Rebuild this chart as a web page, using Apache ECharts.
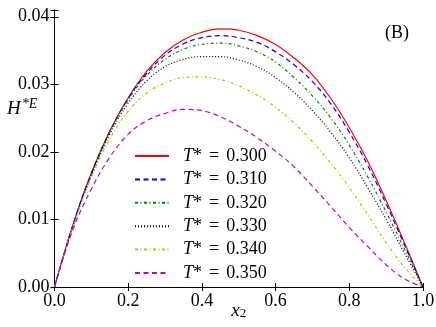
<!DOCTYPE html>
<html>
<head>
<meta charset="utf-8">
<script src="https://cdn.jsdelivr.net/npm/echarts@6/dist/echarts.min.js"></script>
<style>
  html, body { margin: 0; padding: 0; background: #fff; }
  #chart { width: 436px; height: 327px; }
</style>
</head>
<body>
<div id="chart"></div>
<script>
// mole fraction x2
const xValues = [0, 0.05, 0.1, 0.15, 0.2, 0.25, 0.3, 0.35, 0.4, 0.45, 0.5,
  0.55, 0.6, 0.65, 0.7, 0.75, 0.8, 0.85, 0.9, 0.95, 1.0];

const tempLabels = ['0.300', '0.310', '0.320', '0.330', '0.340', '0.350'];

const hT300 = [0, 0.0092, 0.0169, 0.0231, 0.0280, 0.0319, 0.0347, 0.0366, 0.0377, 0.0382, 0.0380,
  0.0372, 0.0359, 0.0339, 0.0314, 0.0279, 0.0236, 0.0186, 0.0128, 0.0065, 0];
const hT310 = [0, 0.0092, 0.0168, 0.0230, 0.0279, 0.0316, 0.0343, 0.0360, 0.0369, 0.0372, 0.0369,
  0.0362, 0.0348, 0.0329, 0.0304, 0.0271, 0.0229, 0.0180, 0.0123, 0.0062, 0];
const hT320 = [0, 0.0091, 0.0167, 0.0229, 0.0277, 0.0313, 0.0337, 0.0352, 0.0359, 0.0361, 0.0357,
  0.0348, 0.0333, 0.0310, 0.0283, 0.0250, 0.0210, 0.0163, 0.0111, 0.0056, 0];
const hT330 = [0, 0.0090, 0.0165, 0.0226, 0.0272, 0.0305, 0.0326, 0.0337, 0.0341, 0.0341, 0.0336,
  0.0326, 0.0310, 0.0288, 0.0261, 0.0229, 0.0191, 0.0147, 0.0100, 0.0050, 0];
const hT340 = [0, 0.0089, 0.0162, 0.0219, 0.0260, 0.0287, 0.0302, 0.0310, 0.0311, 0.0307, 0.0298,
  0.0284, 0.0266, 0.0243, 0.0215, 0.0183, 0.0147, 0.0107, 0.0066, 0.0029, 0];
const hT350 = [0, 0.0085, 0.0145, 0.0192, 0.0226, 0.0246, 0.0257, 0.0263, 0.0261, 0.0252, 0.0238,
  0.0221, 0.0201, 0.0178, 0.0149, 0.0119, 0.0088, 0.0060, 0.0033, 0.0012, 0];

const seriesValues = [hT300, hT310, hT320, hT330, hT340, hT350];
const colors = ['#ff0000', '#0000ff', '#008000', '#000000', '#bfbf00', '#bf00bf'];
const dashes = ['solid', [5, 3.5], [3, 2.5, 1, 2.5], [1, 2], [3, 2.5, 1, 2.5], [5, 3.5]];

const serif = 'Liberation Serif';

const chart = echarts.init(document.getElementById('chart'), null, { renderer: 'canvas' });

const series = seriesValues.map((vals, i) => {
  return {
    name: tempLabels[i],
    type: 'line',
    data: xValues.map((x, j) => [x, vals[j]]),
    smooth: 0.4,
    symbol: 'none',
    color: colors[i],
    lineStyle: { color: colors[i], width: 1.2, type: dashes[i] },
    animation: false,
  };
});

const tickLabel = { fontFamily: serif, fontSize: 18, color: '#000' };

chart.setOption({
  animation: false,
  grid: { left: 54.5, right: 13, top: 10, bottom: 40, outerBoundsMode: 'none' },
  legend: {
    orient: 'vertical',
    left: 129,
    top: 142,
    itemWidth: 34,
    itemHeight: 14,
    itemGap: 5.4,
    data: tempLabels,
    itemStyle: { opacity: 0 },
    formatter: (name) => '{t|T}{n|*}{e|=}{n|' + name + '}',
    textStyle: {
      padding: [0, 0, 0, 9],
      rich: {
        t: { fontFamily: serif, fontStyle: 'italic', fontSize: 18, color: '#000' },
        e: { fontFamily: serif, fontSize: 18, color: '#000', padding: [0, 7, 0, 7] },
        n: { fontFamily: serif, fontSize: 18, color: '#000' },
      },
    },
  },
  xAxis: [
    {
      type: 'value', min: 0, max: 1, interval: 0.2,
      axisLine: { lineStyle: { color: '#000', width: 1 } },
      axisTick: { inside: true, length: 4, lineStyle: { color: '#000' } },
      axisLabel: Object.assign({ margin: 5, formatter: (v) => v.toFixed(1) }, tickLabel),
      splitLine: { show: false },
      name: '{x|x}{s|2}',
      nameLocation: 'middle',
      nameGap: 14,
      nameMoveOverlap: false,
      nameTextStyle: {
        rich: {
          x: { fontFamily: serif, fontStyle: 'italic', fontSize: 19, color: '#000' },
          s: { fontFamily: serif, fontSize: 13, color: '#000', verticalAlign: 'bottom', padding: [6, 0, 0, 0] },
        },
      },
    },
    {
      type: 'value', min: 0, max: 1, interval: 0.2, position: 'top',
      axisLine: { lineStyle: { color: '#000', width: 1 } },
      axisTick: { inside: true, length: 4, lineStyle: { color: '#000' } },
      axisLabel: { show: false },
      splitLine: { show: false },
    },
  ],
  yAxis: [
    {
      type: 'value', min: 0, max: 0.041, interval: 0.01,
      axisLine: { show: true, lineStyle: { color: '#000', width: 1 } },
      axisTick: { show: true, inside: true, length: 4, lineStyle: { color: '#000' } },
      axisLabel: Object.assign({
        margin: 5,
        formatter: (v) => (Math.abs(v * 100 - Math.round(v * 100)) > 1e-6 ? '' : v.toFixed(2)),
      }, tickLabel),
      splitLine: { show: false },
    },
    {
      type: 'value', min: 0, max: 0.041, interval: 0.01, position: 'right',
      axisLine: { show: true, lineStyle: { color: '#000', width: 1 } },
      axisTick: { show: true, inside: true, length: 4, lineStyle: { color: '#000' } },
      axisLabel: { show: false },
      splitLine: { show: false },
    },
  ],
  graphic: [
    {
      type: 'text',
      left: 7,
      top: 97,
      style: {
        text: '{h|H}{s|*E}',
        rich: {
          h: { fontFamily: serif, fontStyle: 'italic', fontSize: 19, fill: '#000' },
          s: { fontFamily: serif, fontStyle: 'italic', fontSize: 14, fill: '#000', verticalAlign: 'top', padding: [0, 0, 9, 1] },
        },
      },
    },
    {
      type: 'text',
      left: 385,
      top: 24,
      style: { text: '(B)', fontFamily: serif, fontSize: 18, fill: '#000' },
    },
  ],
  series: series,
});
</script>
</body>
</html>
